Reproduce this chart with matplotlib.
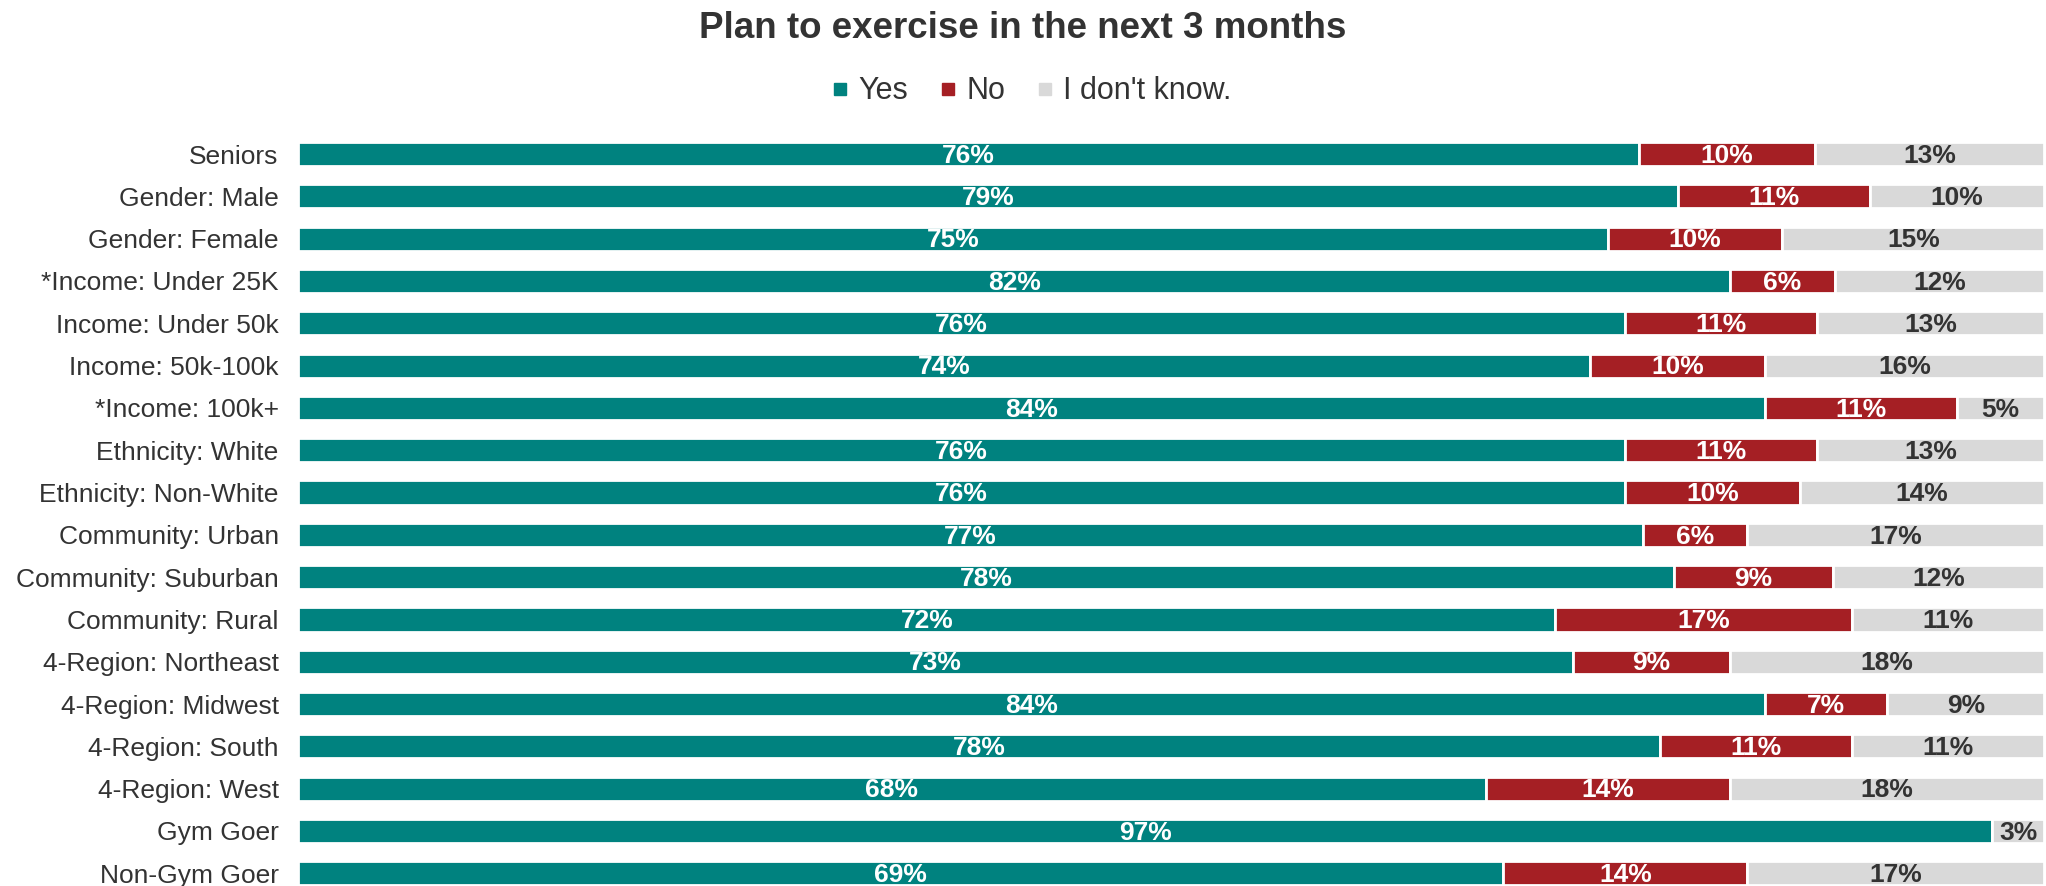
import numpy as np
import matplotlib.pyplot as plt
from matplotlib.lines import Line2D

plt.rcParams['font.family'] = ['Liberation Sans', 'DejaVu Sans']

groups = ['Seniors', 'Gender: Male', 'Gender: Female', '*Income: Under 25K',
          'Income: Under 50k', 'Income: 50k-100k', '*Income: 100k+',
          'Ethnicity: White', 'Ethnicity: Non-White', 'Community: Urban',
          'Community: Suburban', 'Community: Rural', '4-Region: Northeast',
          '4-Region: Midwest', '4-Region: South', '4-Region: West',
          'Gym Goer', 'Non-Gym Goer']
yes = [76, 79, 75, 82, 76, 74, 84, 76, 76, 77, 78, 72, 73, 84, 78, 68, 97, 69]
no = [10, 11, 10, 6, 11, 10, 11, 11, 10, 6, 9, 17, 9, 7, 11, 14, 0, 14]
dont_know = [13, 10, 15, 12, 13, 16, 5, 13, 14, 17, 12, 11, 18, 9, 11, 18, 3, 17]

series = [('Yes', yes, '#00827f', 'white'),
          ('No', no, '#a51f24', 'white'),
          ("I don't know.", dont_know, '#d9d9d9', '#333333')]

totals = np.array(yes) + np.array(no) + np.array(dont_know)

fig = plt.figure(figsize=(20.46, 8.86), dpi=100)
ax = fig.add_axes([0.1457, 0.0, 0.8535, 0.85])

y = np.arange(len(groups))
left = np.zeros(len(groups))
for name, vals, color, tcolor in series:
    vals = np.array(vals, dtype=float)
    share = vals / totals * 100
    ax.barh(y, share, left=left, height=0.57, color=color,
            edgecolor='white', linewidth=2)
    for i, (v, s) in enumerate(zip(vals, share)):
        if v > 0:
            ax.text(left[i] + s / 2, y[i] + 0.04, f'{int(v)}%', ha='center',
                    va='center', color=tcolor, fontsize=19,
                    fontweight='bold')
    left += share

ax.set_xlim(0, 100)
ax.set_ylim(17.3, -0.5)
ax.set_yticks(y)
ax.set_yticklabels(groups, fontsize=19, color='#333333')
ax.tick_params(axis='y', length=0, pad=14)
ax.set_xticks([])
for sp in ax.spines.values():
    sp.set_visible(False)

fig.suptitle('Plan to exercise in the next 3 months', x=0.5, y=0.988,
             fontsize=26.5, fontweight='bold', color='#333333', va='top')

handles = [Line2D([], [], marker='s', linestyle='none', markersize=9,
                  color=c) for _, _, c, _ in series]
fig.legend(handles, [s[0] for s in series], loc='center',
           bbox_to_anchor=(0.504, 0.897), ncol=3, frameon=False,
           fontsize=22, handlelength=0.6, handletextpad=0.3,
           columnspacing=1.0, labelcolor='#333333')

fig.savefig('out.png', dpi=100)
